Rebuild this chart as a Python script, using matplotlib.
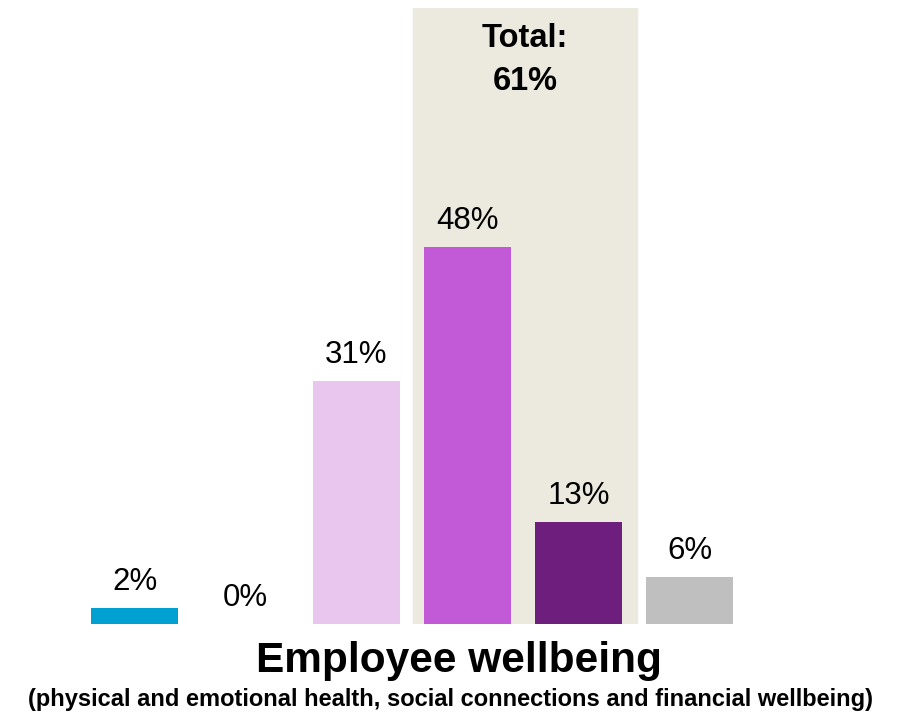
import matplotlib.pyplot as plt

plt.rcParams['font.family'] = ['Liberation Sans', 'DejaVu Sans']

# survey shares per answer bucket
values = [2, 0, 31, 48, 13, 6]
labels = ["2%", "0%", "31%", "48%", "13%", "6%"]
colors = ["#00A0D2", "#E9C6EE", "#E9C6EE", "#C259D7", "#6E1F7E", "#BFBFBF"]
total_lines = ["Total:", "61%"]

W, H = 899, 716
fig = plt.figure(figsize=(W / 100, H / 100), dpi=100)
ax = fig.add_axes([0, 92 / H, 1, 616 / H])

x = range(len(values))
ax.axvspan(2.51, 4.53, color="#ECE9DF", zorder=0)
ax.bar(x, values, width=0.785, color=colors, zorder=2)

for i, (v, lab) in enumerate(zip(values, labels)):
    ax.annotate(lab, (i, v), xytext=(0, 18), textcoords="offset pixels",
                ha="center", va="baseline", fontsize=22.5, color="black")

# highlighted group total, placed in pixel rows from the top
for line, base in zip(total_lines, [47, 90]):
    fig.text(525 / W, 1 - base / H, line, ha="center", va="baseline",
             fontsize=23.5, fontweight="bold")

ax.set_xlim(-1.2117, 6.887)
ax.set_ylim(0, 78.5)
ax.axis("off")

fig.text(459 / W, 1 - 672 / H, "Employee wellbeing", ha="center",
         va="baseline", fontsize=30.5, fontweight="bold")
fig.text(451 / W, 1 - 706 / H,
         "(physical and emotional health, social connections and financial wellbeing)",
         ha="center", va="baseline", fontsize=17, fontweight="bold")

fig.savefig("out.png", dpi=100)
